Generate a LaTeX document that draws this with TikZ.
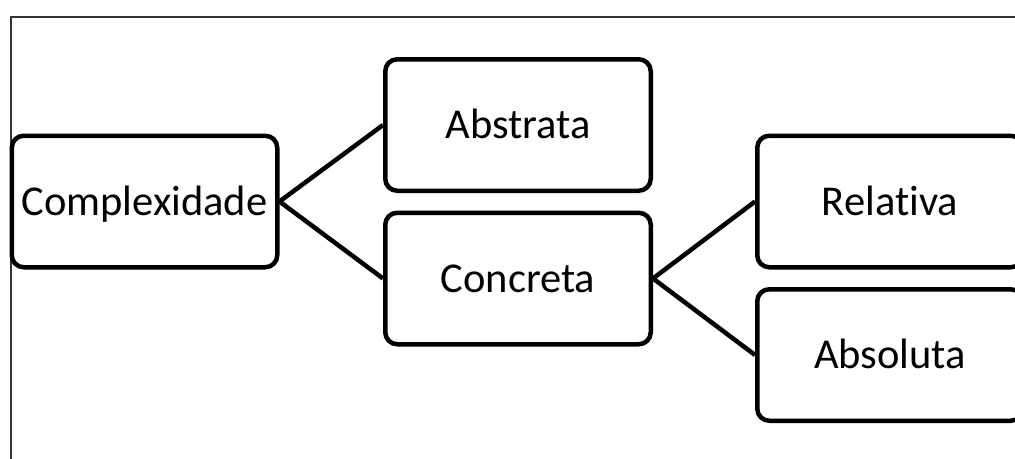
\documentclass[tikz,border=0pt]{standalone}
\usepackage{fontspec}
\setmainfont{Carlito}[Ligatures=NoCommon]

\begin{document}
\begin{tikzpicture}[x=1pt,y=-1pt,
	caixa/.style={draw,line width=4.5pt,rounded corners=12pt,minimum width=265.5pt,minimum height=131.5pt,
		text height=27pt,text depth=0pt,font=\fontsize{42.5}{50}\selectfont},
	liga/.style={line width=4.5pt}]
			\clip (0,0) rectangle (1015,458);
			\draw [line width=1.5pt,color=black!80] (11,470) -- (11,17) -- (1040,17);
			\node[caixa] (compl) at (144.5,201.5) {Complexidade};
			\node[caixa] (abstr) at (518,125) {Abstrata};
			\node[caixa] (concr) at (518,278.5) {Concreta};
			\node[caixa] (relat) at (890,201.5) {Relativa};
			\node[caixa] (absol) at (890,355) {Absoluta};
			\draw [liga] (compl.east) -- (abstr.west);
			\draw [liga] (compl.east) -- (concr.west);
			\draw [liga] (concr.east) -- (relat.west);
			\draw [liga] (concr.east) -- (absol.west);
	\end{tikzpicture}
\end{document}
